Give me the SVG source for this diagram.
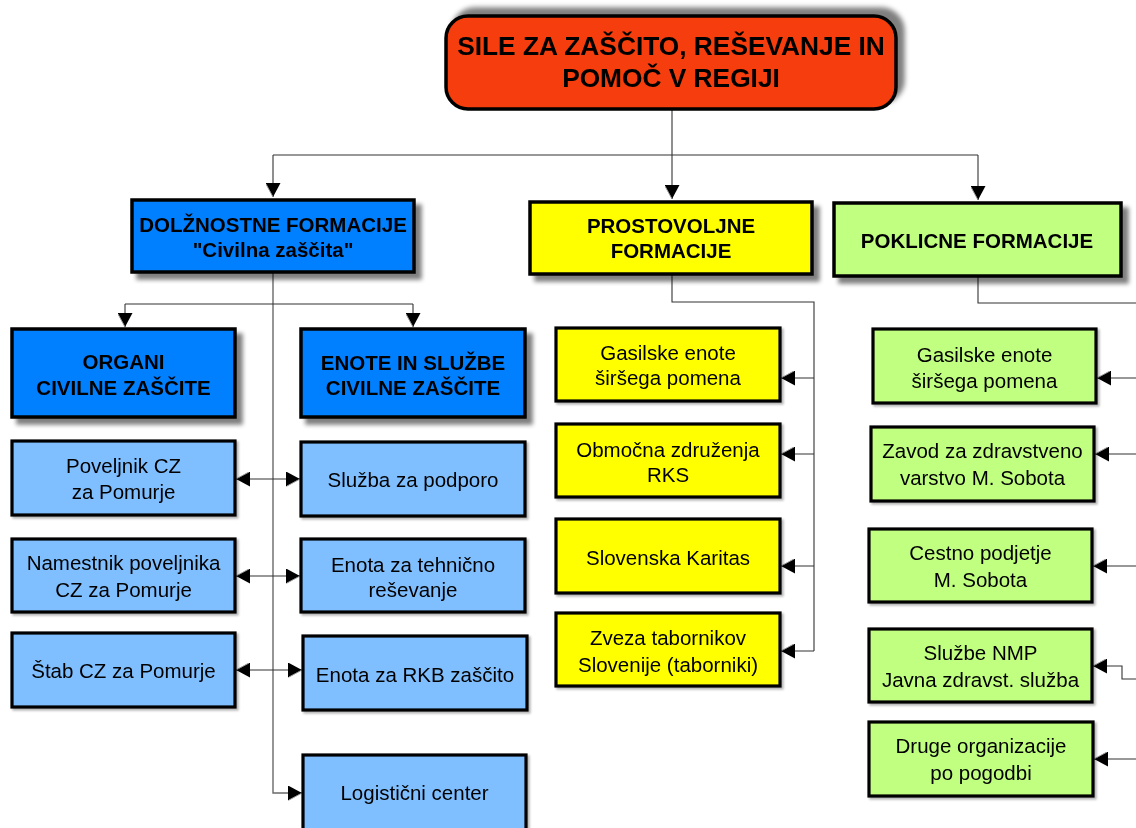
<svg xmlns="http://www.w3.org/2000/svg" width="1136" height="828" viewBox="0 0 1136 828">
<defs>
<style>
text{font-family:"Liberation Sans",Arial,sans-serif;font-size:20.5px;fill:#000;text-anchor:middle}
.b{font-weight:bold}
.t{font-size:26.3px;font-weight:bold}
.box{stroke:#000;stroke-width:3.5}
.leaf{stroke:#000;stroke-width:3.2}
.red{fill:#F53D08}
.blue{fill:#0080FF}
.lblue{fill:#80BFFF}
.yel{fill:#FFFF00}
.grn{fill:#C0FF80}
.c{fill:none;stroke:#333;stroke-width:1.1}
.cg{fill:none;stroke:#6a6a6a;stroke-width:1.4}
</style>
<marker id="arr" viewBox="0 0 14 15" refX="14" refY="7.5" markerWidth="14" markerHeight="15" orient="auto-start-reverse" markerUnits="userSpaceOnUse">
<path d="M0,0 L14,7.5 L0,15 z" fill="#000"/>
<path d="M1,14.5 L14,7.5" stroke="#999" stroke-width="1" fill="none"/>
</marker>
<filter id="shTop" x="-10%" y="-30%" width="125%" height="160%">
<feGaussianBlur in="SourceAlpha" stdDeviation="2.5"/>
<feOffset dx="7" dy="-7" result="b"/>
<feFlood flood-color="#000" flood-opacity="0.5"/>
<feComposite in2="b" operator="in"/>
<feMerge><feMergeNode/><feMergeNode in="SourceGraphic"/></feMerge>
</filter>
<filter id="sh" x="-10%" y="-10%" width="125%" height="140%">
<feGaussianBlur in="SourceAlpha" stdDeviation="2"/>
<feOffset dx="6" dy="6" result="b"/>
<feFlood flood-color="#000" flood-opacity="0.5"/>
<feComposite in2="b" operator="in"/>
<feMerge><feMergeNode/><feMergeNode in="SourceGraphic"/></feMerge>
</filter>
<filter id="shs" x="-5%" y="-5%" width="115%" height="120%">
<feGaussianBlur in="SourceAlpha" stdDeviation="0.8"/>
<feOffset dx="1.5" dy="1.5" result="b"/>
<feFlood flood-color="#000" flood-opacity="0.3"/>
<feComposite in2="b" operator="in"/>
<feMerge><feMergeNode/><feMergeNode in="SourceGraphic"/></feMerge>
</filter>
</defs>

<g id="connectors">
<path class="c" d="M672,110 V199" marker-end="url(#arr)"/>
<path class="c" d="M273,155 H978"/>
<path class="c" d="M273,155 V197" marker-end="url(#arr)"/>
<path class="c" d="M978,155 V200" marker-end="url(#arr)"/>
<path class="cg" d="M273,273 V793 H302" marker-end="url(#arr)"/>
<path class="c" d="M125,304 H413"/>
<path class="c" d="M125,304 V327" marker-end="url(#arr)"/>
<path class="c" d="M413,304 V327" marker-end="url(#arr)"/>
<path class="c" d="M236,479 H300" marker-start="url(#arr)" marker-end="url(#arr)"/>
<path class="c" d="M236,576 H300" marker-start="url(#arr)" marker-end="url(#arr)"/>
<path class="c" d="M236,670 H302" marker-start="url(#arr)" marker-end="url(#arr)"/>
<path class="c" d="M672,275 V302 H814 V651"/>
<path class="c" d="M814,378 H781" marker-end="url(#arr)"/>
<path class="c" d="M814,454 H781" marker-end="url(#arr)"/>
<path class="c" d="M814,566 H781" marker-end="url(#arr)"/>
<path class="c" d="M814,651 H781" marker-end="url(#arr)"/>
<path class="c" d="M978,277 V303 H1136"/>
<path class="c" d="M1136,378 H1097" marker-end="url(#arr)"/>
<path class="c" d="M1136,454 H1095" marker-end="url(#arr)"/>
<path class="c" d="M1136,566 H1093" marker-end="url(#arr)"/>
<path class="c" d="M1136,679 H1122 V666 H1093" marker-end="url(#arr)"/>
<path class="c" d="M1136,759 H1094" marker-end="url(#arr)"/>
</g>

<g id="n-top" filter="url(#shTop)">
<rect class="box red" x="446" y="16" width="450" height="93" rx="22"/>
<text class="t" x="671" y="55">SILE ZA ZAŠČITO, REŠEVANJE IN</text>
<text class="t" x="671" y="87">POMOČ V REGIJI</text>
</g>

<g id="n-dolz" filter="url(#sh)">
<rect class="box blue" x="132" y="200" width="282" height="72"/>
<text class="b" x="273" y="232">DOLŽNOSTNE FORMACIJE</text>
<text class="b" x="273" y="257">"Civilna zaščita"</text>
</g>
<g id="n-prost" filter="url(#sh)">
<rect class="box yel" x="530" y="202" width="282" height="72"/>
<text class="b" x="671" y="233">PROSTOVOLJNE</text>
<text class="b" x="671" y="258">FORMACIJE</text>
</g>
<g id="n-pokl" filter="url(#sh)">
<rect class="box grn" x="834" y="203" width="287" height="73"/>
<text class="b" x="977" y="248">POKLICNE FORMACIJE</text>
</g>

<g id="n-organi" filter="url(#sh)">
<rect class="box blue" x="12" y="329" width="223" height="88"/>
<text class="b" x="123.5" y="369">ORGANI</text>
<text class="b" x="123.5" y="395">CIVILNE ZAŠČITE</text>
</g>
<g id="n-enote" filter="url(#sh)">
<rect class="box blue" x="301" y="329" width="224" height="88"/>
<text class="b" x="413" y="370">ENOTE IN SLUŽBE</text>
<text class="b" x="413" y="395">CIVILNE ZAŠČITE</text>
</g>

<g id="n-poveljnik" filter="url(#shs)">
<rect class="leaf lblue" x="12" y="441" width="223" height="74"/>
<text x="123.5" y="473">Poveljnik CZ</text>
<text x="123.5" y="499">za Pomurje</text>
</g>
<g id="n-namestnik" filter="url(#shs)">
<rect class="leaf lblue" x="12" y="539" width="223" height="73"/>
<text x="123.5" y="570">Namestnik poveljnika</text>
<text x="123.5" y="597">CZ za Pomurje</text>
</g>
<g id="n-stab" filter="url(#shs)">
<rect class="leaf lblue" x="12" y="633" width="223" height="74"/>
<text x="123.5" y="678">Štab CZ za Pomurje</text>
</g>

<g id="n-sluzba" filter="url(#shs)">
<rect class="leaf lblue" x="301" y="442" width="224" height="74"/>
<text x="413" y="487">Služba za podporo</text>
</g>
<g id="n-tehnicno" filter="url(#shs)">
<rect class="leaf lblue" x="301" y="539" width="224" height="73"/>
<text x="413" y="572">Enota za tehnično</text>
<text x="413" y="597">reševanje</text>
</g>
<g id="n-rkb" filter="url(#shs)">
<rect class="leaf lblue" x="303" y="636" width="224" height="74"/>
<text x="415" y="682">Enota za RKB zaščito</text>
</g>
<g id="n-logisticni" filter="url(#shs)">
<rect class="leaf lblue" x="303" y="755" width="223" height="80"/>
<text x="414.5" y="800">Logistični center</text>
</g>

<g id="n-y-gasilske" filter="url(#shs)">
<rect class="leaf yel" x="556" y="328" width="224" height="73"/>
<text x="668" y="360">Gasilske enote</text>
<text x="668" y="385">širšega pomena</text>
</g>
<g id="n-y-obmocna" filter="url(#shs)">
<rect class="leaf yel" x="556" y="424" width="224" height="73"/>
<text x="668" y="457">Območna združenja</text>
<text x="668" y="482">RKS</text>
</g>
<g id="n-y-karitas" filter="url(#shs)">
<rect class="leaf yel" x="556" y="519" width="224" height="74"/>
<text x="668" y="565">Slovenska Karitas</text>
</g>
<g id="n-y-zveza" filter="url(#shs)">
<rect class="leaf yel" x="556" y="613" width="224" height="73"/>
<text x="668" y="645">Zveza tabornikov</text>
<text x="668" y="672">Slovenije (taborniki)</text>
</g>

<g id="n-g-gasilske" filter="url(#shs)">
<rect class="leaf grn" x="873" y="329" width="223" height="74"/>
<text x="984.5" y="362">Gasilske enote</text>
<text x="984.5" y="388">širšega pomena</text>
</g>
<g id="n-g-zavod" filter="url(#shs)">
<rect class="leaf grn" x="871" y="427" width="223" height="74"/>
<text x="982.5" y="458">Zavod za zdravstveno</text>
<text x="982.5" y="485">varstvo M. Sobota</text>
</g>
<g id="n-g-cestno" filter="url(#shs)">
<rect class="leaf grn" x="869" y="529" width="223" height="73"/>
<text x="980.5" y="560">Cestno podjetje</text>
<text x="980.5" y="587">M. Sobota</text>
</g>
<g id="n-g-nmp" filter="url(#shs)">
<rect class="leaf grn" x="869" y="629" width="223" height="73"/>
<text x="980.5" y="660">Službe NMP</text>
<text x="980.5" y="687">Javna zdravst. služba</text>
</g>
<g id="n-g-druge" filter="url(#shs)">
<rect class="leaf grn" x="869" y="722" width="224" height="74"/>
<text x="981" y="753">Druge organizacije</text>
<text x="981" y="780">po pogodbi</text>
</g>
</svg>
